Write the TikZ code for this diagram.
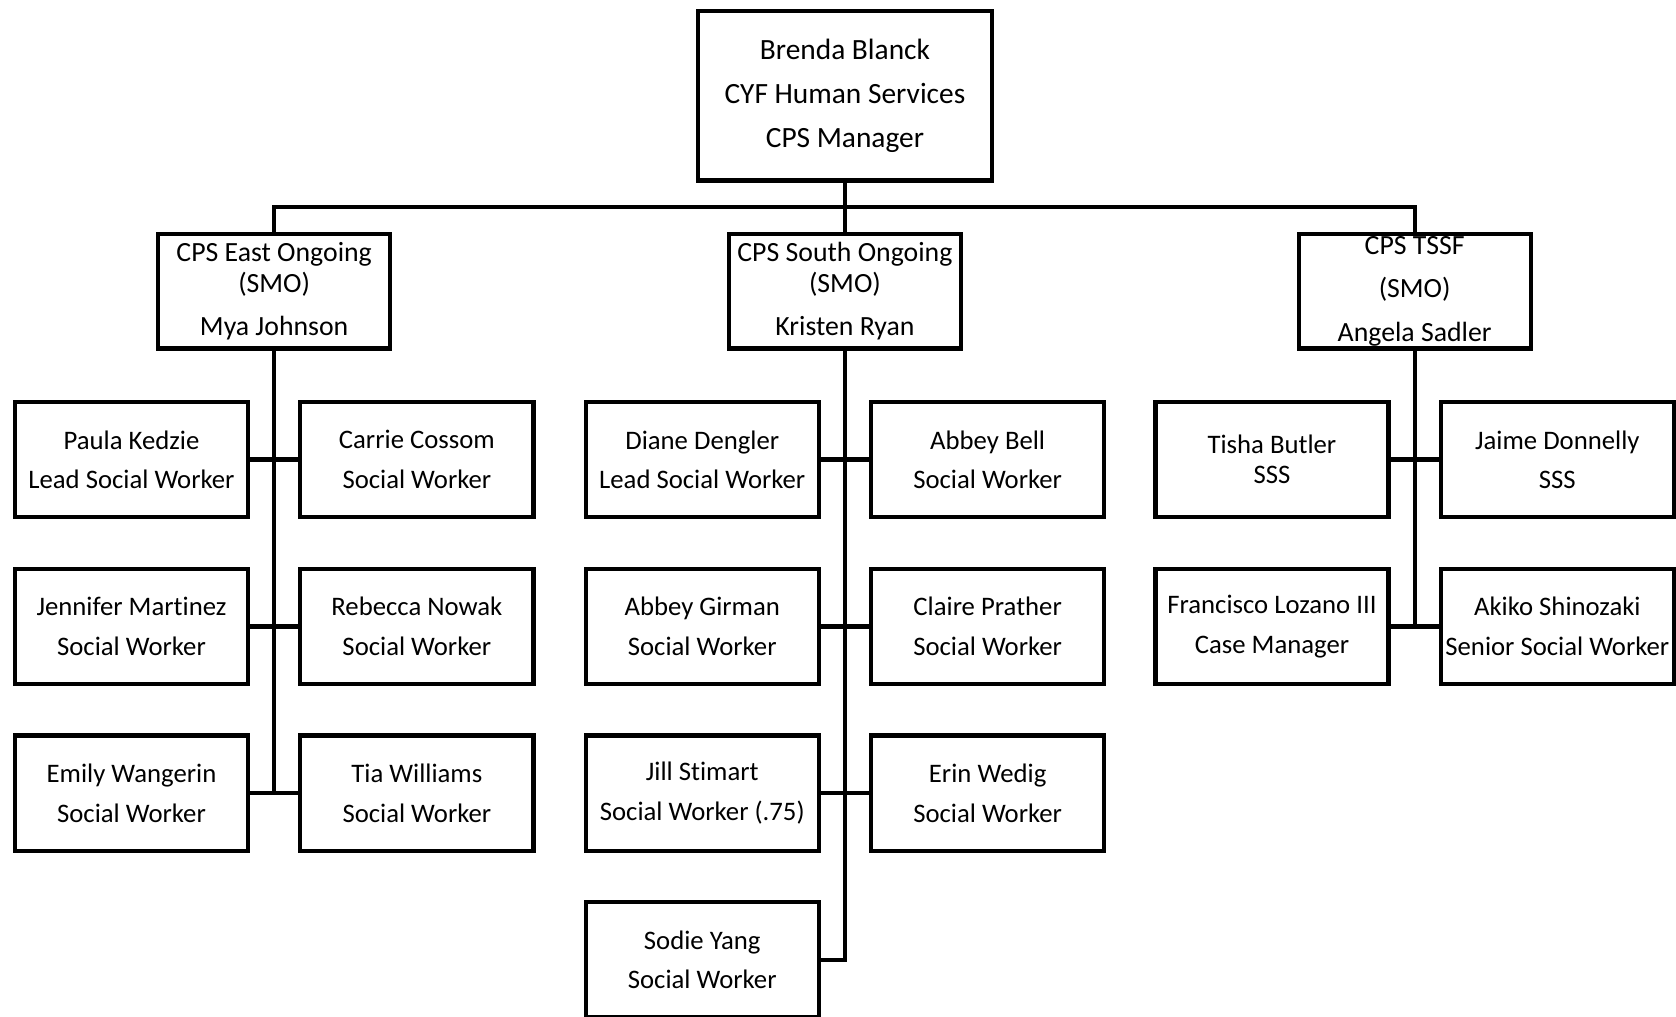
\documentclass[tikz,border=0pt]{standalone}
\usepackage{fontspec}
\setmainfont{Carlito}[Ligatures={NoCommon,NoRare,NoContextual},RawFeature={-liga;-clig;-dlig}]
\usetikzlibrary{positioning}

\begin{document}
\begin{tikzpicture}[x=0.5pt,y=-0.5pt,line width=2pt,node distance=78pt,
    chief/.style={draw,rectangle,inner sep=0pt,align=center,minimum width=137.5pt,minimum height=79.5pt,font=\fontsize{13.75}{20.5}\selectfont},
    unit/.style={draw,rectangle,inner sep=0pt,align=center,minimum width=108.5pt,minimum height=53.5pt,font=\fontsize{13}{14.5}\selectfont},
    worker/.style={draw,rectangle,inner sep=0pt,align=center,minimum width=109pt,minimum height=54pt,font=\fontsize{12.5}{18.5}\selectfont}]

    \useasboundingbox (0,0) rectangle (1568,951);

    \node[chief] (M) at (790.5,89.5) {Brenda Blanck\\CYF Human Services\\CPS Manager};

    \node[unit] (E) at (256.5,272.5)  {CPS East Ongoing\\(SMO)\\[5.5pt]Mya Johnson};
    \node[unit] (S) at (790.5,272.5)  {CPS South Ongoing\\(SMO)\\[5.5pt]Kristen Ryan};
    \node[unit] (T) at (1323.5,272.5) {CPS TSSF\\[6pt](SMO)\\[6pt]Angela Sadler};

    % East team
    \node[worker] (E1) at (123,430)                          {Paula Kedzie\\Lead Social Worker};
    \node[worker] (E2) [right of=E1,node distance=133.5pt]   {Carrie Cossom\\Social Worker};
    \node[worker] (E3) [below of=E1]                         {Jennifer Martinez\\Social Worker};
    \node[worker] (E4) [below of=E2]                         {Rebecca Nowak\\Social Worker};
    \node[worker] (E5) [below of=E3]                         {Emily Wangerin\\Social Worker};
    \node[worker] (E6) [below of=E4]                         {Tia Williams\\Social Worker};

    % South team
    \node[worker] (S1) at (657,430)                          {Diane Dengler\\Lead Social Worker};
    \node[worker] (S2) [right of=S1,node distance=133.5pt]   {Abbey Bell\\Social Worker};
    \node[worker] (S3) [below of=S1]                         {Abbey Girman\\Social Worker};
    \node[worker] (S4) [below of=S2]                         {Claire Prather\\Social Worker};
    \node[worker] (S5) [below of=S3]                         {Jill Stimart\\Social Worker (.75)};
    \node[worker] (S6) [below of=S4]                         {Erin Wedig\\Social Worker};
    \node[worker] (S7) [below of=S5]                         {Sodie Yang\\Social Worker};

    % TSSF team
    \node[worker] (T1) at (1190,430)                         {Tisha Butler\\[-4.5pt]SSS};
    \node[worker] (T2) [right of=T1,node distance=133.5pt]   {Jaime Donnelly\\SSS};
    \node[worker] (T3) [below of=T1]                         {Francisco Lozano III\\Case Manager};
    \node[worker] (T4) [below of=T2]                         {Akiko Shinozaki\\Senior Social Worker};

    \coordinate (bus) at (790.5,194);

    \draw (M) -- (S);
    \draw (E) |- (bus) -| (T);

    \draw (E) -- (E |- E5);
    \draw (S) |- (S7);
    \draw (T) -- (T |- T3);

    \path       (E1) edge (E2)
                (E3) edge (E4)
                (E5) edge (E6)
                (S1) edge (S2)
                (S3) edge (S4)
                (S5) edge (S6)
                (T1) edge (T2)
                (T3) edge (T4);
\end{tikzpicture}
\end{document}
